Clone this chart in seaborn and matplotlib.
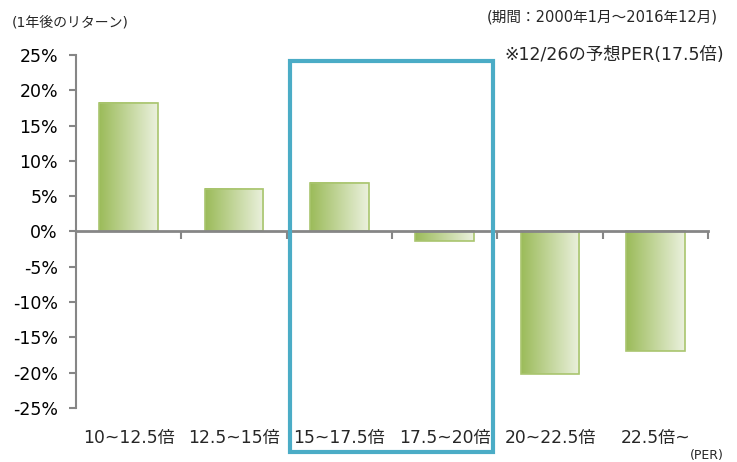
import numpy as np
import pandas as pd
import matplotlib
matplotlib.use('Agg')
import matplotlib.pyplot as plt
import matplotlib.patches as mpatches
from matplotlib.colors import LinearSegmentedColormap
import seaborn as sns

# data
categories = ['10~12.5倍', '12.5~15倍', '15~17.5倍', '17.5~20倍', '20~22.5倍', '22.5倍~']
returns = [18.2, 6.0, 6.9, -1.3, -20.2, -16.9]
yticks = [-25, -20, -15, -10, -5, 0, 5, 10, 15, 20, 25]

df = pd.DataFrame({'per': categories, 'ret': returns})

sns.set_style('white')
plt.rcParams['font.family'] = ['DejaVu Sans', 'Noto Sans CJK JP']

fig = plt.figure(figsize=(7.37, 4.62), dpi=100)
ax = fig.add_axes([76/737, 1-408/462, 632/737, 353/462])

sns.barplot(data=df, x='per', y='ret', order=categories, width=0.56,
            color='#9BBB59', ax=ax, zorder=2)

# gradient fill for each bar
cmap = LinearSegmentedColormap.from_list('g', ['#9BBB59', '#EBF1DE'])
grad = np.linspace(0, 1, 256).reshape(1, -1)
for p in ax.patches:
    x0, y0 = p.get_x(), p.get_y()
    w, h = p.get_width(), p.get_height()
    ax.imshow(grad, cmap=cmap, aspect='auto', zorder=2,
              extent=[x0, x0 + w, min(y0, y0 + h), max(y0, y0 + h)])
    p.set_facecolor('none')
    p.set_edgecolor('#A9C56E')
    p.set_linewidth(1.2)
    p.set_zorder(3)

ax.set_xlim(-0.5, len(categories) - 0.5)
ax.set_ylim(-25, 25)
ax.set_yticks(yticks)
ax.set_yticklabels([f'{v}%' for v in yticks], fontsize=12.5, color='#000000')
ax.set_xlabel('')
ax.set_ylabel('')

for s in ['top', 'right']:
    ax.spines[s].set_visible(False)
ax.spines['left'].set_color('#868686')
ax.spines['left'].set_linewidth(1.5)
ax.spines['bottom'].set_position(('data', 0))
ax.spines['bottom'].set_color('#868686')
ax.spines['bottom'].set_linewidth(2)
ax.spines['bottom'].set_zorder(4)

ax.tick_params(axis='y', which='major', left=True, length=5, width=1.5,
               color='#868686', pad=8)
ax.set_xticks(np.arange(-0.5, len(categories)), minor=True)
ax.tick_params(axis='x', which='minor', bottom=True, length=6, width=1.5,
               color='#868686', direction='out')
ax.tick_params(axis='x', which='major', bottom=False, length=0, pad=142,
               labelsize=12.3)

# highlight box around 15~20
fig.patches.append(mpatches.Rectangle((290/737, 1-452/462), 203/737, 391/462,
                                      transform=fig.transFigure, fill=False,
                                      edgecolor='#4BACC6', linewidth=3, zorder=10))

fig.text(12/737, 1-22/462, '(1年後のリターン)', fontsize=10, va='center', ha='left')
fig.text(718/737, 1-17/462, '(期間：2000年1月～2016年12月)', fontsize=10.5,
         va='center', ha='right')
fig.text(724/737, 1-55/462, '※12/26の予想PER(17.5倍)', fontsize=12.5,
         va='center', ha='right')
fig.text(724/737, 1-455/462, '(PER)', fontsize=9, va='center', ha='right')

fig.savefig('out.png', dpi=100)
